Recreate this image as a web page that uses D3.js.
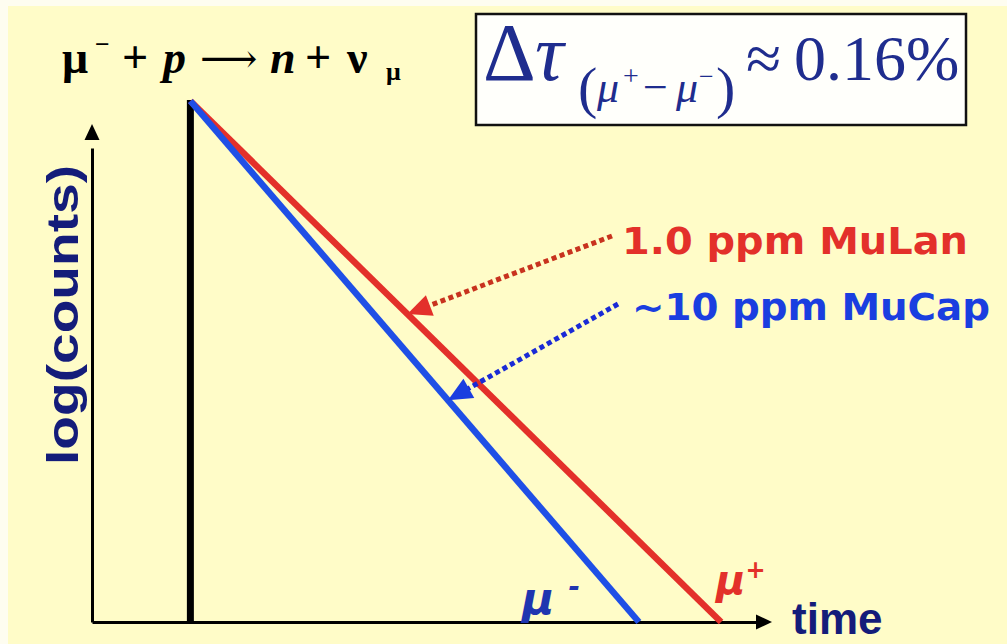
<!DOCTYPE html>
<html>
<head>
<meta charset="utf-8">
<script src="https://cdn.jsdelivr.net/npm/d3@7"></script>
<style>
  html, body { margin: 0; padding: 0; background: #fefdf0; }
  svg { display: block; }
</style>
</head>
<body>
<svg id="chart" width="1007" height="644"></svg>
<script>
// Decay lines on a log(counts) vs time plot (arbitrary units)
const muPlusTime = [0, 9.17];
const muPlusLog = [10, 0];
const muMinusTime = [0, 7.75];
const muMinusLog = [10, 0];

// Where the annotation arrows touch each line (time value on that line)
const annotationTimes = [3.75, 4.45];
const annotationLabels = ["1.0 ppm MuLan", "~10 ppm MuCap"];

const W = 1007, H = 644;
const svg = d3.select("#chart");

const x = d3.scaleLinear().domain([-1.7, 10.05]).range([92, 772]);
const y = d3.scaleLinear().domain([0, 10]).range([622, 101]);

const RED = "#e3302a", BLUE = "#1f4fe6", NAVY = "#141c7a";

// backdrop
svg.append("rect").attr("x", 8).attr("y", 6).attr("width", W - 8).attr("height", H - 6)
  .attr("fill", "#fffcc8");

// axes: y axis with arrow at top, x axis with arrow at right
const axisY = d3.axisLeft(d3.scaleLinear().domain([0, 9.1]).range([y(0), y(9.1)]))
  .tickValues([]).tickSizeOuter(0);
svg.append("g").attr("transform", `translate(${x(-1.7)},0)`).call(axisY)
  .select(".domain").attr("stroke", "#000").attr("stroke-width", 3);

const axisX = d3.axisBottom(d3.scaleLinear().domain([-1.7, 9.8]).range([x(-1.7), x(9.8)]))
  .tickValues([]).tickSizeOuter(0);
svg.append("g").attr("transform", `translate(0,${y(0)})`).call(axisX)
  .select(".domain").attr("stroke", "#000").attr("stroke-width", 3);

// arrowheads
const tri = (tip, dir, len, half) => {
  const [dx, dy] = dir; const n = Math.hypot(dx, dy); const ux = dx / n, uy = dy / n;
  const bx = tip[0] - ux * len, by = tip[1] - uy * len;
  return `M${tip[0]},${tip[1]}L${bx - uy * half},${by + ux * half}L${bx + uy * half},${by - ux * half}Z`;
};
svg.append("path").attr("d", tri([x(-1.7), y(9.56)], [0, -1], 16, 7.5)).attr("fill", "#000");
svg.append("path").attr("d", tri([x(10.05), y(0)], [1, 0], 16, 7.5)).attr("fill", "#000");

// t = 0 marker (muon stop)
svg.append("line").attr("x1", x(0)).attr("x2", x(0)).attr("y1", y(0)).attr("y2", y(10) - 1)
  .attr("stroke", "#000").attr("stroke-width", 7);

// decay lines
const line = d3.line().x(d => x(d[0])).y(d => y(d[1]));
const muPlus = d3.zip(muPlusTime, muPlusLog);
const muMinus = d3.zip(muMinusTime, muMinusLog);
svg.append("path").attr("d", line(muPlus)).attr("fill", "none")
  .attr("stroke", RED).attr("stroke-width", 6.5);
svg.append("path").attr("d", line(muMinus)).attr("fill", "none")
  .attr("stroke", BLUE).attr("stroke-width", 6.5);

// dotted annotation arrows
const onLine = (pts, t) => {
  const [p0, p1] = pts; const f = (t - p0[0]) / (p1[0] - p0[0]);
  return [x(t), y(p0[1] + f * (p1[1] - p0[1]))];
};
const annos = [
  { tip: onLine(muPlus, annotationTimes[0]), from: [612, 236], color: "#c8321e", head: RED },
  { tip: onLine(muMinus, annotationTimes[1]), from: [618, 304], color: "#1a2ad6", head: "#1a3ee0" }
];
annos.forEach(a => {
  const dx = a.tip[0] - a.from[0], dy = a.tip[1] - a.from[1];
  const n = Math.hypot(dx, dy);
  const end = [a.tip[0] - dx / n * 20, a.tip[1] - dy / n * 20];
  svg.append("line").attr("x1", a.from[0]).attr("y1", a.from[1])
    .attr("x2", end[0]).attr("y2", end[1])
    .attr("stroke", a.color).attr("stroke-width", 5).attr("stroke-dasharray", "5,3.5");
  svg.append("path").attr("d", tri(a.tip, [dx, dy], 24, 11)).attr("fill", a.head);
});

// annotation labels
svg.append("text").attr("x", 622).attr("y", 254)
  .attr("font-family", "DejaVu Sans").attr("font-weight", "bold").attr("font-size", 38)
  .attr("fill", RED).attr("textLength", 346).attr("lengthAdjust", "spacingAndGlyphs")
  .text(annotationLabels[0]);
svg.append("text").attr("x", 632).attr("y", 320)
  .attr("font-family", "DejaVu Sans").attr("font-weight", "bold").attr("font-size", 38)
  .attr("fill", "#1a3ee0").attr("textLength", 358).attr("lengthAdjust", "spacingAndGlyphs")
  .text(annotationLabels[1]);

// series labels
const muM = svg.append("text").attr("x", 522).attr("y", 614)
  .attr("font-family", "DejaVu Sans").attr("font-weight", "bold").attr("font-style", "italic")
  .attr("font-size", 44).attr("fill", "#1f35b0");
muM.append("tspan").text("μ");
muM.append("tspan").attr("dx", 14).attr("dy", -18).attr("font-size", 28).text("-");
const muP = svg.append("text").attr("x", 716).attr("y", 594)
  .attr("font-family", "DejaVu Sans").attr("font-weight", "bold").attr("font-style", "italic")
  .attr("font-size", 40).attr("fill", RED);
muP.append("tspan").text("μ");
muP.append("tspan").attr("dy", -16).attr("font-size", 24).text("+");

// axis titles
svg.append("text").attr("transform", `translate(78,315) rotate(-90)`)
  .attr("text-anchor", "middle")
  .attr("font-family", "Liberation Sans").attr("font-weight", "bold").attr("font-size", 44)
  .attr("fill", NAVY).attr("textLength", 300).attr("lengthAdjust", "spacingAndGlyphs")
  .text("log(counts)");
svg.append("text").attr("x", 792).attr("y", 634)
  .attr("font-family", "Liberation Sans").attr("font-weight", "bold").attr("font-size", 44)
  .attr("fill", NAVY).text("time");

// capture reaction
const eq = svg.append("text").attr("y", 73)
  .attr("font-family", "Liberation Serif").attr("font-weight", "bold").attr("font-size", 46)
  .attr("fill", "#000");
eq.append("tspan").attr("x", 62).text("μ");
eq.append("tspan").attr("x", 95).attr("dy", -20).attr("font-size", 26).text("−");
eq.append("tspan").attr("x", 122).attr("dy", 20).text("+");
eq.append("tspan").attr("x", 163).attr("font-style", "italic").text("p");
eq.append("tspan").attr("x", 200).attr("font-family", "DejaVu Serif").attr("font-weight", "normal")
  .attr("font-size", 40).attr("dy", -1).text("⟶");
eq.append("tspan").attr("x", 270).attr("dy", 1).attr("font-style", "italic").text("n");
eq.append("tspan").attr("x", 305).text("+");
eq.append("tspan").attr("x", 347).text("ν");
eq.append("tspan").attr("x", 386).attr("dy", 7).attr("font-size", 26).text("μ");

// lifetime difference box
svg.append("rect").attr("x", 476).attr("y", 14).attr("width", 490).attr("height", 111)
  .attr("fill", "#fffffb").attr("stroke", "#111").attr("stroke-width", 2.5);
const tau = svg.append("text").attr("y", 80)
  .attr("font-family", "Liberation Serif").attr("font-size", 64).attr("fill", "#1f2d8e");
tau.append("tspan").attr("x", 483).attr("font-size", 82).text("Δ");
tau.append("tspan").attr("x", 535).attr("font-size", 80).attr("font-style", "italic").text("τ");
tau.append("tspan").attr("x", 578).attr("dy", 27).attr("font-size", 58).text("(");
tau.append("tspan").attr("x", 597).attr("dy", -5).attr("font-size", 44).attr("font-style", "italic").text("μ");
tau.append("tspan").attr("x", 623).attr("dy", -17).attr("font-size", 28).text("+");
tau.append("tspan").attr("x", 643).attr("dy", 17).attr("font-size", 44).text("−");
tau.append("tspan").attr("x", 676).attr("font-size", 44).attr("font-style", "italic").text("μ");
tau.append("tspan").attr("x", 699).attr("dy", -17).attr("font-size", 26).text("−");
tau.append("tspan").attr("x", 716).attr("dy", 22).attr("font-size", 58).text(")");
tau.append("tspan").attr("x", 746).attr("dy", -27).text("≈");
tau.append("tspan").attr("x", 794).text("0.16%");
</script>
</body>
</html>
